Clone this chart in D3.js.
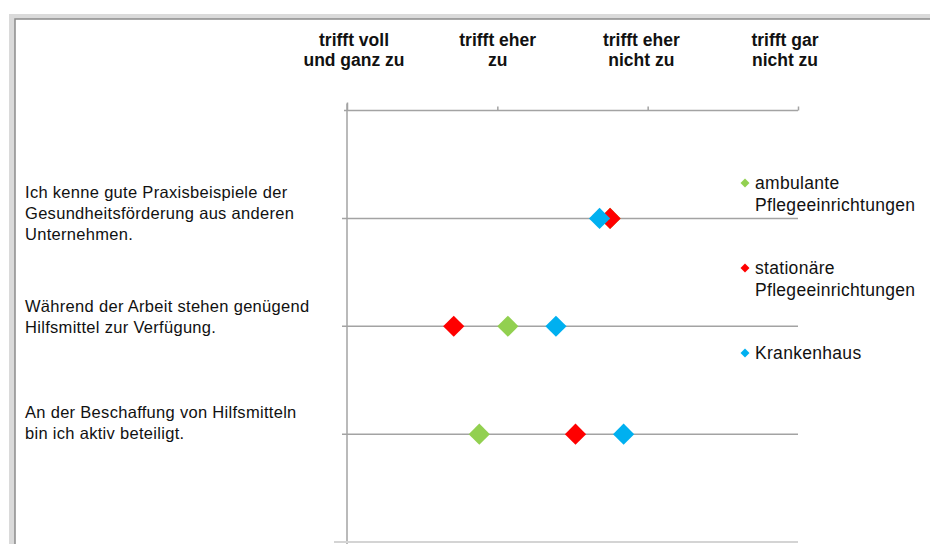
<!DOCTYPE html>
<html>
<head>
<meta charset="utf-8">
<script src="https://cdn.jsdelivr.net/npm/d3@7"></script>
<style>
	body { margin: 0; background: #fff; }
	svg { display: block; }
</style>
</head>
<body>
<svg id="chart" width="930" height="544"></svg>
<script>
// Answer scale (1 = trifft voll und ganz zu ... 4 = trifft gar nicht zu)
const scaleLabels = [
	["trifft voll", "und ganz zu"],
	["trifft eher", "zu"],
	["trifft eher", "nicht zu"],
	["trifft gar", "nicht zu"]
];

const statements = [
	["Ich kenne gute Praxisbeispiele der", "Gesundheitsförderung aus anderen", "Unternehmen."],
	["Während der Arbeit stehen genügend", "Hilfsmittel zur Verfügung."],
	["An der Beschaffung von Hilfsmitteln", "bin ich aktiv beteiligt."]
];

const seriesNames = [
	["ambulante", "Pflegeeinrichtungen"],
	["stationäre", "Pflegeeinrichtungen"],
	["Krankenhaus"]
];
const seriesColors = ["#92d050", "#ff0000", "#00b0f0"];

// Mean answer per statement
const ambulante = [2.75, 2.07, 1.88];
const stationaere = [2.75, 1.71, 2.52];
const krankenhaus = [2.68, 2.39, 2.84];
const seriesValues = [ambulante, stationaere, krankenhaus];


function drawChart(svgElement) {
	const svg = d3.select(svgElement);

	// Window frame of the screenshot
	svg.append("rect").attr("x", 9).attr("y", 14).attr("width", 930).attr("height", 544).attr("fill", "#dadada");
	svg.append("rect").attr("x", 15).attr("y", 19).attr("width", 930).attr("height", 544).attr("fill", "#fff")
		.attr("stroke", "#8c8c8c").attr("stroke-width", 1.5);

	const x = d3.scaleLinear().domain([1, 4]).range([347, 798]);
	const y = d3.scaleLinear().domain([0, 4]).range([110.5, 542]);
	// Header text boxes sit slightly off the tick marks
	const headerX = d3.scaleLinear().domain([1, 4]).range([354, 785]);

	const axisColor = "#a3a3a3";

	// Top axis with ticks
	const topAxis = d3.axisTop(x).tickValues([1, 2, 3, 4]).tickSize(4).tickFormat("");
	const topG = svg.append("g").attr("transform", `translate(0, ${y(0)})`).call(topAxis);
	topG.select(".domain").attr("d", `M${x(1) - 3},0H${x(4)}`);
	topG.selectAll("path, line").attr("stroke", axisColor).attr("stroke-width", 1.5);
	topG.select(".tick line").attr("y2", -8);

	// Vertical axis
	svg.append("line")
		.attr("x1", x(1)).attr("x2", x(1))
		.attr("y1", y(0) - 7).attr("y2", 544)
		.attr("stroke", axisColor).attr("stroke-width", 1.5);

	// Statement lines
	svg.selectAll("line.row")
		.data(statements)
		.join("line")
		.attr("class", "row")
		.attr("x1", x(1) - 5).attr("x2", x(4))
		.attr("y1", (d, i) => y(i + 1)).attr("y2", (d, i) => y(i + 1))
		.attr("stroke", axisColor).attr("stroke-width", 1.5);

	// Bottom line
	svg.append("line")
		.attr("x1", x(1) - 13).attr("x2", x(4))
		.attr("y1", y(4)).attr("y2", y(4))
		.attr("stroke", "#d4d4d4").attr("stroke-width", 2);

	// Header labels
	const header = svg.append("g")
		.attr("font-family", "'Liberation Sans Narrow', 'Arial Narrow', 'Liberation Sans', sans-serif")
		.attr("font-weight", "bold")
		.attr("font-size", 17.5)
		.attr("fill", "#111")
		.attr("text-anchor", "middle");
	scaleLabels.forEach((lines, i) => {
		const t = header.append("text").attr("x", headerX(i + 1)).attr("y", 46);
		lines.forEach((line, j) => {
			t.append("tspan").attr("x", headerX(i + 1)).attr("dy", j === 0 ? 0 : 20).text(line);
		});
	});

	// Statement labels
	const labels = svg.append("g")
		.attr("font-family", "'Liberation Sans', Arial, sans-serif")
		.attr("font-size", 16.5)
		.attr("letter-spacing", 0.3)
		.attr("fill", "#111");
	const labelTop = [198, 312, 418];
	statements.forEach((lines, i) => {
		const t = labels.append("text").attr("x", 25).attr("y", labelTop[i]);
		lines.forEach((line, j) => {
			t.append("tspan").attr("x", 25).attr("dy", j === 0 ? 0 : 21).text(line);
		});
	});

	// Diamond markers
	const diamond = d3.symbol().type(d3.symbolSquare).size(225);
	seriesValues.forEach((values, s) => {
		svg.append("g").selectAll("path")
			.data(values)
			.join("path")
			.attr("d", diamond)
			.attr("transform", (v, i) => `translate(${x(v)}, ${y(i + 1)}) rotate(45)`)
			.attr("fill", seriesColors[s]);
	});

	// Legend
	const legendY = [183, 268, 353];
	const legend = svg.append("g")
		.attr("font-family", "'Liberation Sans', Arial, sans-serif")
		.attr("font-size", 17.5)
		.attr("letter-spacing", 0.3)
		.attr("fill", "#111");
	const smallDiamond = d3.symbol().type(d3.symbolSquare).size(40);
	seriesNames.forEach((lines, s) => {
		legend.append("path")
			.attr("d", smallDiamond)
			.attr("transform", `translate(745, ${legendY[s]}) rotate(45)`)
			.attr("fill", seriesColors[s]);
		const t = legend.append("text").attr("x", 755).attr("y", legendY[s] + 6);
		lines.forEach((line, j) => {
			t.append("tspan").attr("x", 755).attr("dy", j === 0 ? 0 : 22).text(line);
		});
	});
}

drawChart(document.getElementById("chart"));
</script>
</body>
</html>
